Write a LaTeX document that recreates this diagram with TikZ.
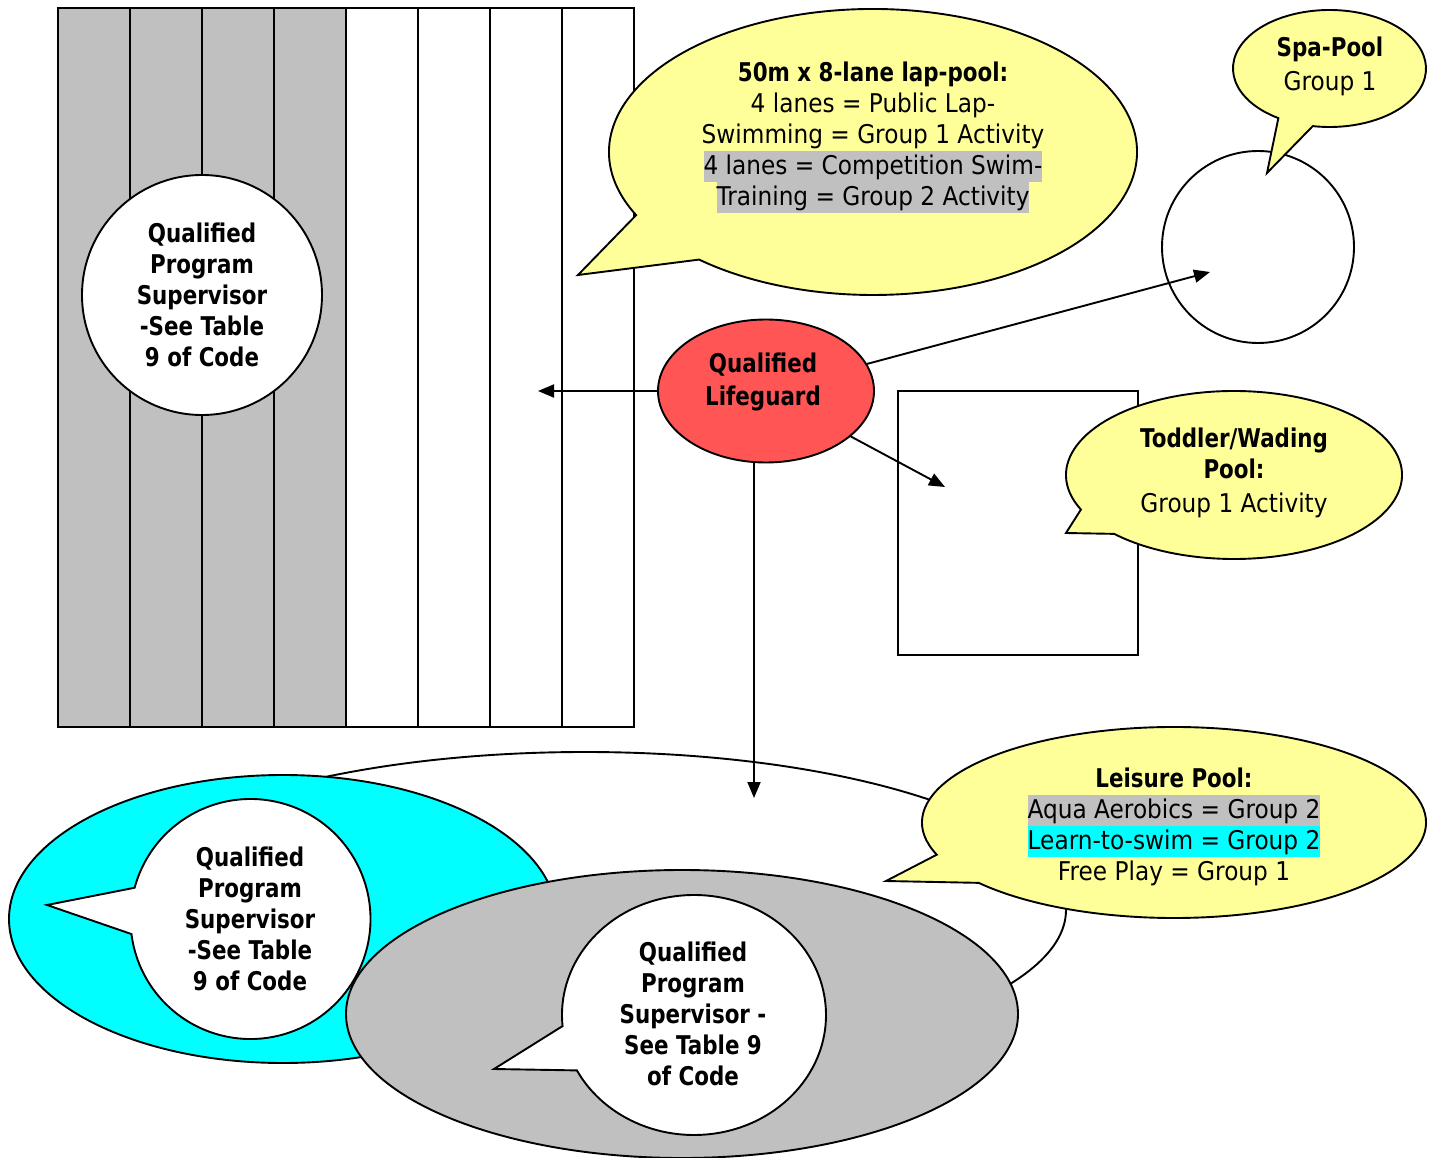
\documentclass[tikz,border=0pt]{standalone}
\usepackage{fontspec}
\setmainfont{DejaVu Sans}[UprightFeatures={FakeStretch=0.9},BoldFeatures={FakeStretch=0.83}]
\usetikzlibrary{arrows.meta,shapes.geometric,calc}
\definecolor{calloutyellow}{HTML}{FFFF99}
\definecolor{poolgray}{HTML}{C0C0C0}
\definecolor{poolcyan}{HTML}{00FFFF}
\definecolor{guardred}{HTML}{FF5555}
\newcommand{\hlbox}[2]{{\setlength{\fboxsep}{0pt}\colorbox{#1}{\rule[-7.5pt]{0pt}{31pt}#2}}}
\tikzset{
  outline/.style={draw=black, line width=1.9pt},
  txt/.style={align=center, font=\fontsize{25.8}{31}\selectfont, inner sep=0pt},
  btxt/.style={txt, font=\fontsize{25.8}{31}\selectfont\bfseries},
  bubble/.style={outline, fill=calloutyellow, line join=miter},
  wbubble/.style={outline, fill=white, line join=miter},
  wshape/.style={outline, fill=white, inner sep=0pt},
  lane/.style={line width=1.9pt},
  link/.style={line width=1.9pt, -{Triangle[length=16pt,width=13pt]}},
}
\begin{document}
\begin{tikzpicture}[x=1pt,y=-1pt]
\useasboundingbox (0,0) rectangle (1438,1158);

% ---------- 50 m lap pool ----------
\fill[poolgray] (58,8) rectangle (346,727);
\foreach \x in {130,202,274,346,418,490,562} \draw[lane] (\x,8) -- (\x,727);
\node[rectangle, outline, inner sep=0pt, minimum width=576, minimum height=719] (lap) at (346,367.5) {};

\node[circle, wshape, minimum size=240, btxt] (sup1) at (202,295)
  {Qualified\\Program\\Supervisor\\-See Table\\9 of Code};

% lap-pool callout
\coordinate (lapc) at (873,152);
\coordinate (laptip) at (578,275);
\draw[bubble] ([shift={(153.8:264 and 143)}]lapc)
  arc[start angle=153.8, end angle=491.2, x radius=264, y radius=143] -- (laptip) -- cycle;
\node[txt] (laptext) at (873,137)
  {\textbf{50m x 8-lane lap-pool:}\\4 lanes = Public Lap-\\Swimming = Group 1 Activity\\\hlbox{poolgray}{4 lanes = Competition Swim-}\\\hlbox{poolgray}{Training = Group 2 Activity}};

% ---------- spa pool ----------
\node[circle, wshape, minimum size=192] (spa) at (1258,247) {};
\coordinate (spac) at (1329.5,68.5);
\coordinate (spatip) at (1267,173);
\draw[bubble] ([shift={(122:96.5 and 58.5)}]spac)
  arc[start angle=122, end angle=460, x radius=96.5, y radius=58.5] -- (spatip) -- cycle;
\node[txt] (spatext) at (1330,66.5) {\textbf{Spa-Pool}\\[3pt]Group 1};

% ---------- lifeguard ----------
\node[ellipse, outline, fill=guardred, inner sep=0pt, minimum width=216, minimum height=143] (lg) at (766,391) {};
\node[btxt] (lgtext) at (763,382) {Qualified\\[2pt]Lifeguard};

% ---------- toddler pool ----------
\node[rectangle, outline, inner sep=0pt, minimum width=240, minimum height=264] (tod) at (1018,523) {};
\coordinate (todc) at (1234,475);
\coordinate (todtip) at (1066,533);
\draw[bubble] ([shift={(155.7:168 and 84)}]todc)
  arc[start angle=155.7, end angle=495.5, x radius=168, y radius=84] -- (todtip) -- cycle;
\node[txt] (todtext) at (1234,473) {\textbf{Toddler/Wading}\\\textbf{Pool:}\\[3pt]Group 1 Activity};

% ---------- leisure pool ----------
\node[ellipse, wshape, minimum width=962, minimum height=316] (leis) at (585,910) {};
\node[ellipse, outline, fill=poolcyan, inner sep=0pt, minimum width=548, minimum height=288] (ltsarea) at (283,919) {};
\coordinate (sup2c) at (250.5,919);
\coordinate (sup2tip) at (47,905);
\draw[wbubble] ([shift={(195.1:120 and 120)}]sup2c)
  arc[start angle=195.1, end angle=532.8, x radius=120, y radius=120] -- (sup2tip) -- cycle;
\node[btxt] (sup2) at (250,919) {Qualified\\Program\\Supervisor\\-See Table\\9 of Code};

\node[ellipse, outline, fill=poolgray, inner sep=0pt, minimum width=672, minimum height=288] (aquaarea) at (682,1014) {};
\coordinate (sup3c) at (694,1015);
\coordinate (sup3tip) at (494,1069);
\draw[wbubble] ([shift={(174.7:132 and 120)}]sup3c)
  arc[start angle=174.7, end angle=512.5, x radius=132, y radius=120] -- (sup3tip) -- cycle;
\node[btxt] (sup3) at (693,1014) {Qualified\\Program\\Supervisor -\\See Table 9\\of Code};

\coordinate (leic) at (1174,822.5);
\coordinate (leitip) at (886,881);
\draw[bubble] ([shift={(160.3:252 and 95.5)}]leic)
  arc[start angle=160.3, end angle=500.8, x radius=252, y radius=95.5] -- (leitip) -- cycle;
\node[txt] (leitext) at (1174,827)
  {\textbf{Leisure Pool:}\\\hlbox{poolgray}{Aqua Aerobics = Group 2}\\\hlbox{poolcyan}{Learn-to-swim = Group 2}\\Free Play = Group 1};

% ---------- lifeguard connectors ----------
\coordinate (lapend) at (538,391);
\coordinate (spaend) at (1210,272);
\coordinate (todend) at (945,487);
\coordinate (leisend) at (754,798);
\draw[link] (lg.west) -- (lapend);
\draw[link] (lg) -- (spaend);
\draw[link] (lg) -- (todend);
\draw[link] (lg.south -| leisend) -- (leisend);
\end{tikzpicture}
\end{document}
